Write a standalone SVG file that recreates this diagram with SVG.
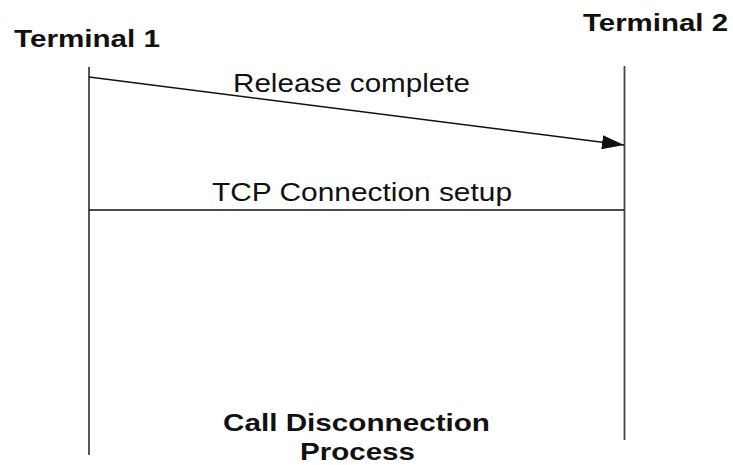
<svg xmlns="http://www.w3.org/2000/svg" width="733" height="465" viewBox="0 0 733 465">
<style>
.t{font-family:"Liberation Sans",Arial,sans-serif;fill:#111}
.b{font-weight:bold;font-size:24px}
.r{font-size:26px}
.life{stroke:#444;stroke-width:1.8;fill:none}
.msg{stroke:#111;stroke-width:1.5;fill:none}
</style>
<defs>
<marker id="ah" viewBox="0 0 22 14" refX="22" refY="7" markerWidth="22" markerHeight="14" markerUnits="userSpaceOnUse" orient="auto">
<path d="M0,0 L22,7 L0,14 Z" fill="#111"/>
</marker>
</defs>
<rect width="733" height="465" fill="#fff"/>
<g id="terminal1">
<text class="t b" x="14" y="47" textLength="146" lengthAdjust="spacingAndGlyphs">Terminal 1</text>
<line class="life" x1="89" y1="67" x2="89" y2="455"/>
</g>
<g id="terminal2">
<text class="t b" x="583" y="31" textLength="145" lengthAdjust="spacingAndGlyphs">Terminal 2</text>
<line class="life" x1="624.5" y1="66" x2="624.5" y2="440"/>
</g>
<g id="connectors">
<line class="msg" x1="89" y1="77" x2="624" y2="145" marker-end="url(#ah)"/>
<text class="t r" x="233" y="92" textLength="237" lengthAdjust="spacingAndGlyphs">Release complete</text>
<line class="msg" x1="89" y1="210" x2="624" y2="210"/>
<text class="t r" x="212" y="201" textLength="300" lengthAdjust="spacingAndGlyphs">TCP Connection setup</text>
</g>
<g id="caption">
<text class="t b" x="223" y="431" textLength="267" lengthAdjust="spacingAndGlyphs">Call Disconnection</text>
<text class="t b" x="300" y="460" textLength="115" lengthAdjust="spacingAndGlyphs">Process</text>
</g>
</svg>
